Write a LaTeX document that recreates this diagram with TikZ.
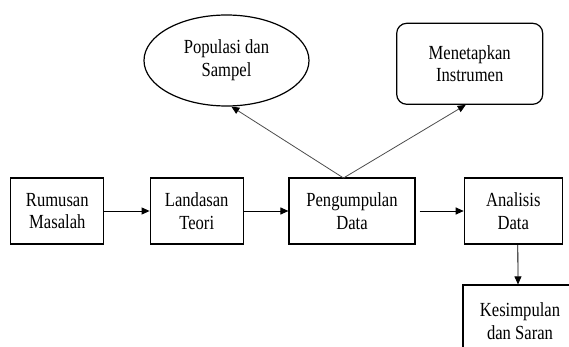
\documentclass[tikz,border=0pt]{standalone}
\usepackage{fontspec}
\setmainfont{Liberation Serif}[FakeStretch=0.83]
\usetikzlibrary{arrows.meta,shapes.geometric,calc}
\begin{document}
\begin{tikzpicture}[x=1pt,y=-1pt,
  every node/.style={font=\fontsize{20}{22.7}\selectfont, align=center, inner sep=0pt},
  boxnode/.style={draw, line width=1.2pt, rectangle, minimum height=66pt},
  ellnode/.style={draw, line width=1.2pt, ellipse, minimum width=165pt, minimum height=91pt},
  roundnode/.style={draw, line width=1.2pt, rectangle, rounded corners=10pt, minimum width=146pt, minimum height=81pt},
  arr/.style={line width=1pt, -{Triangle[length=8pt,width=7pt]}},
  thinarr/.style={line width=0.8pt, draw=black!70, -{Triangle[length=8pt,width=7pt,color=black,fill=black]}}
]
\useasboundingbox (0,0) rectangle (569,347);
\begin{scope}
\clip (0,0) rectangle (569,347);
\node[boxnode, minimum width=93pt] (R) at (57.3,211) {Rumusan\\Masalah};
\node[boxnode, minimum width=93pt] (L) at (196.7,211) {Landasan\\Teori};
\node[boxnode, minimum width=126pt] (P) at (352,211) {Pengumpulan\\Data};
\node[boxnode, minimum width=98pt] (A) at (513.3,211) {Analisis\\Data};
\node[boxnode, minimum width=114pt, minimum height=72pt] (K) at (520,321) {Kesimpulan\\dan Saran};
\node[ellnode] (E) at (226.5,60.5) {Populasi dan\\Sampel};
\node[roundnode] (M) at (469.7,63.8) {Menetapkan\\Instrumen};
\coordinate (T) at (343.5,178);
\draw[arr] (R.east) -- (L.west);
\draw[arr] (L.east) -- (P.west);
\draw[arr, shorten <=4pt] (P.east) -- (A.west);
\draw[line width=0.8pt, -{Triangle[length=8pt,width=7pt]}] ([xshift=4.5pt]A.south) -- ([xshift=-2pt]K.north);
\draw[thinarr] (T) -- (E.-84);
\draw[thinarr] (T) -- ([xshift=-4pt]M.south);
\end{scope}
\end{tikzpicture}
\end{document}
